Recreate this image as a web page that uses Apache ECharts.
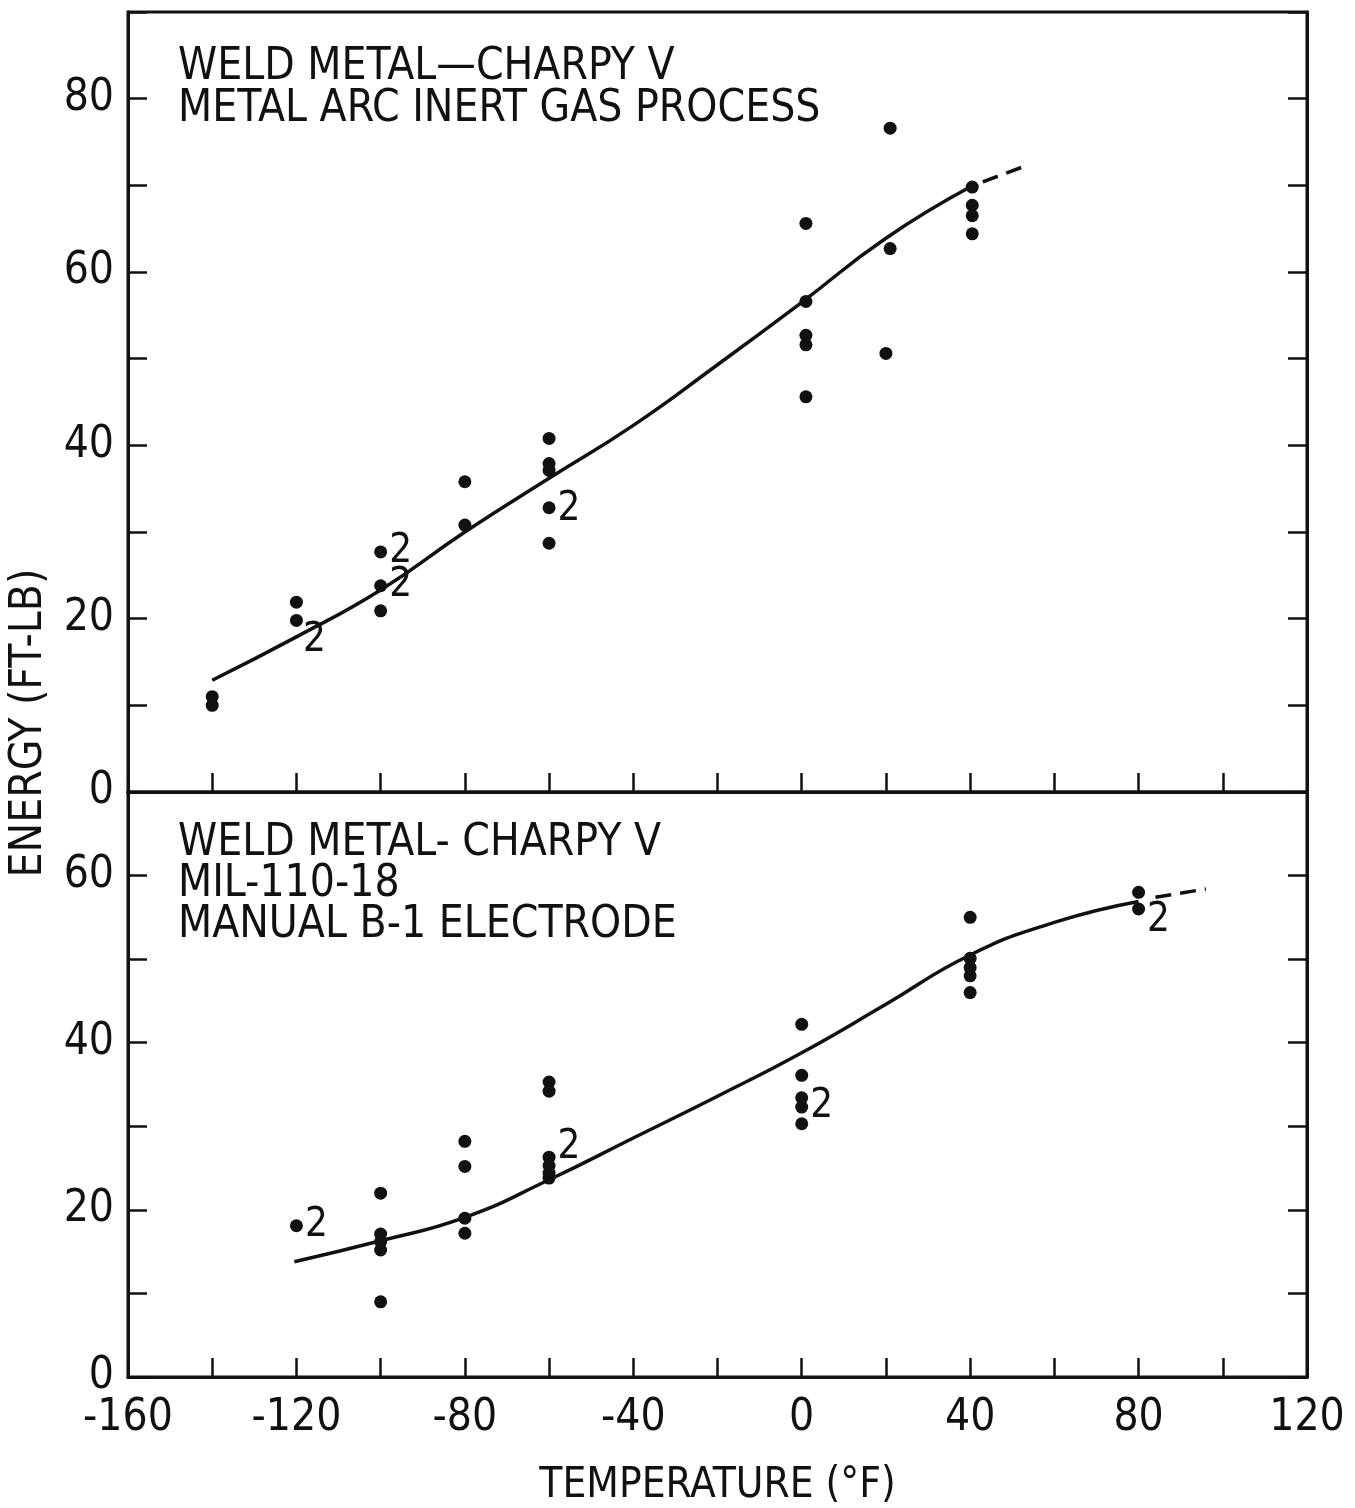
<!DOCTYPE html>
<html>
<head>
<meta charset="utf-8">
<title>Weld metal Charpy V</title>
<script src="https://cdn.jsdelivr.net/npm/echarts@6/dist/echarts.min.js"></script>
<style>
  html, body { margin: 0; padding: 0; background: #fff; }
  #chart { width: 1355px; height: 1508px; }
</style>
</head>
<body>
<div id="chart"></div>
<script>
// --- data ---
var tempTicks = [-160, 120];           // x range (deg F)
var topDots = [[-140, 11.0], [-140, 10.0], [-120, 21.9], [-100, 20.9],
  [-80, 35.8], [-80, 30.8], [-60, 40.8], [-60, 37.9], [-60, 37.1], [-60, 28.7],
  [1, 65.6], [1, 56.6], [1, 52.7], [1, 51.6], [1, 45.6],
  [21, 76.6], [21, 62.7], [20, 50.6],
  [40.5, 69.8], [40.5, 67.7], [40.5, 66.5], [40.5, 64.4]];
var topTwos = [[-120, 19.8], [-100, 27.7], [-100, 23.8], [-60, 32.8]];
var topCurve = [[-140, 12.9], [-120, 17.9], [-100, 23.3], [-80, 30.0], [-60, 36.2],
  [-40, 42.3], [-20, 49.3], [0, 56.5], [20, 63.9], [40, 69.8]];
var topDash = [[43, 70.4], [54, 72.4]];

var botDots = [[-100, 22.0], [-100, 17.1], [-100, 16.2], [-100, 15.2], [-100, 9.0],
  [-80, 28.2], [-80, 25.2], [-80, 19.0], [-80, 17.2],
  [-60, 35.3], [-60, 34.2], [-60, 25.3], [-60, 24.4], [-60, 23.8],
  [0, 42.2], [0, 36.1], [0, 33.4], [0, 30.3],
  [40, 55.0], [40, 50.1], [40, 49.0], [40, 48.0], [40, 46.0], [80, 58.0]];
var botTwos = [[-120, 18.1], [-60, 26.3], [0, 32.3], [80, 56.0]];
var botCurve = [[-120.5, 13.8], [-100, 16.3], [-80, 19.1], [-60, 23.6], [-40, 28.6],
  [-20, 33.6], [0, 38.8], [20, 44.6], [40, 50.5], [60, 54.4], [80, 56.9]];
var botDash = [[84, 57.4], [96, 58.4]];

var topNotes = ['WELD METAL\u2014CHARPY V', 'METAL ARC INERT GAS PROCESS'];
var botNotes = ['WELD METAL- CHARPY V', 'MIL-110-18', 'MANUAL B-1 ELECTRODE'];

// --- styling ---
var FONT = "'Liberation Sans Narrow', 'DejaVu Sans Condensed', 'Liberation Sans', sans-serif";
var INK = '#111';

var chart = echarts.init(document.getElementById('chart'));

function xAx(grid, labels) {
  return {
    type: 'value', gridIndex: grid, min: tempTicks[0], max: tempTicks[1], interval: 20,
    axisLine: { show: true, onZero: false, lineStyle: { color: INK, width: 3 } },
    axisTick: { show: true, inside: true, length: 19, lineStyle: { color: INK, width: 2.5 } },
    splitLine: { show: false },
    axisLabel: {
      show: labels, color: INK, fontFamily: FONT, fontSize: 44, margin: 20,
      formatter: function (v) { return v % 40 === 0 ? String(v) : ''; }
    },
    name: labels ? 'TEMPERATURE (\u00B0F)' : '', nameLocation: 'middle', nameGap: 88,
    nameTextStyle: { color: INK, fontFamily: FONT, fontSize: 42 }
  };
}
function yAx(grid, max, right) {
  return {
    type: 'value', gridIndex: grid, min: 0, max: max, interval: 10,
    position: right ? 'right' : 'left',
    axisLine: { show: true, onZero: false, lineStyle: { color: INK, width: 3 } },
    axisTick: { show: true, inside: true, length: 19, lineStyle: { color: INK, width: 2.5 } },
    splitLine: { show: false },
    axisLabel: {
      show: !right, color: INK, fontFamily: FONT, fontSize: 44, margin: 14,
      formatter: function (v) { return v % 20 === 0 ? String(v) : ''; }
    }
  };
}

function dots(data, xi, yi) {
  return { type: 'scatter', xAxisIndex: xi, yAxisIndex: yi, data: data,
    symbol: 'circle', symbolSize: 13, itemStyle: { color: INK, opacity: 1 }, z: 5 };
}
function twos(data, xi, yi, offsets) {
  return { type: 'scatter', xAxisIndex: xi, yAxisIndex: yi, symbol: 'circle', symbolSize: 13,
    itemStyle: { color: INK, opacity: 1 }, z: 5,
    data: data.map(function (d, i) {
      return { value: d, label: { offset: offsets[i] } };
    }),
    label: { show: true, position: 'right', distance: 2, formatter: '2',
      color: INK, fontFamily: FONT, fontSize: 40 } };
}
function curve(data, xi, yi, dashed) {
  return { type: 'line', xAxisIndex: xi, yAxisIndex: yi, data: data, smooth: dashed ? false : 0.5,
    showSymbol: false, lineStyle: { color: INK, width: 3.5, type: dashed ? [16, 9] : 'solid' }, z: 3 };
}

var option = {
  animation: false,
  backgroundColor: '#fff',
  grid: [
    { left: 128, right: 48, top: 12, height: 780, show: true, borderColor: INK, borderWidth: 3 },
    { left: 128, right: 48, top: 792, height: 608, show: true, borderColor: INK, borderWidth: 3 }
  ],
  xAxis: [xAx(0, false), xAx(1, true)],
  yAxis: [yAx(0, 90, false), yAx(0, 90, true), yAx(1, 70, false), yAx(1, 70, true)],
  graphic: [
    { type: 'text', x: 30, y: 723, rotation: Math.PI / 2,
      style: { text: 'ENERGY (FT-LB)', font: '44px ' + FONT, fill: INK, align: 'center', verticalAlign: 'middle' } },
    { type: 'text', left: 178, top: 46,
      style: { text: topNotes.join('\n'), font: '44px ' + FONT, fill: INK, lineHeight: 42 } },
    { type: 'text', left: 178, top: 822,
      style: { text: botNotes.join('\n'), font: '44px ' + FONT, fill: INK, lineHeight: 41 } }
  ],
  series: [
    curve(topCurve, 0, 0, false),
    curve(topDash, 0, 0, true),
    dots(topDots, 0, 0),
    twos(topTwos, 0, 0, [[-2, 20], [0, 0], [0, 0], [0, 2]]),
    curve(botCurve, 1, 2, false),
    curve(botDash, 1, 2, true),
    dots(botDots, 1, 2),
    twos(botTwos, 1, 2, [[0, 0], [0, -10], [0, 0], [0, 12]])
  ]
};
chart.setOption(option);
</script>
</body>
</html>
